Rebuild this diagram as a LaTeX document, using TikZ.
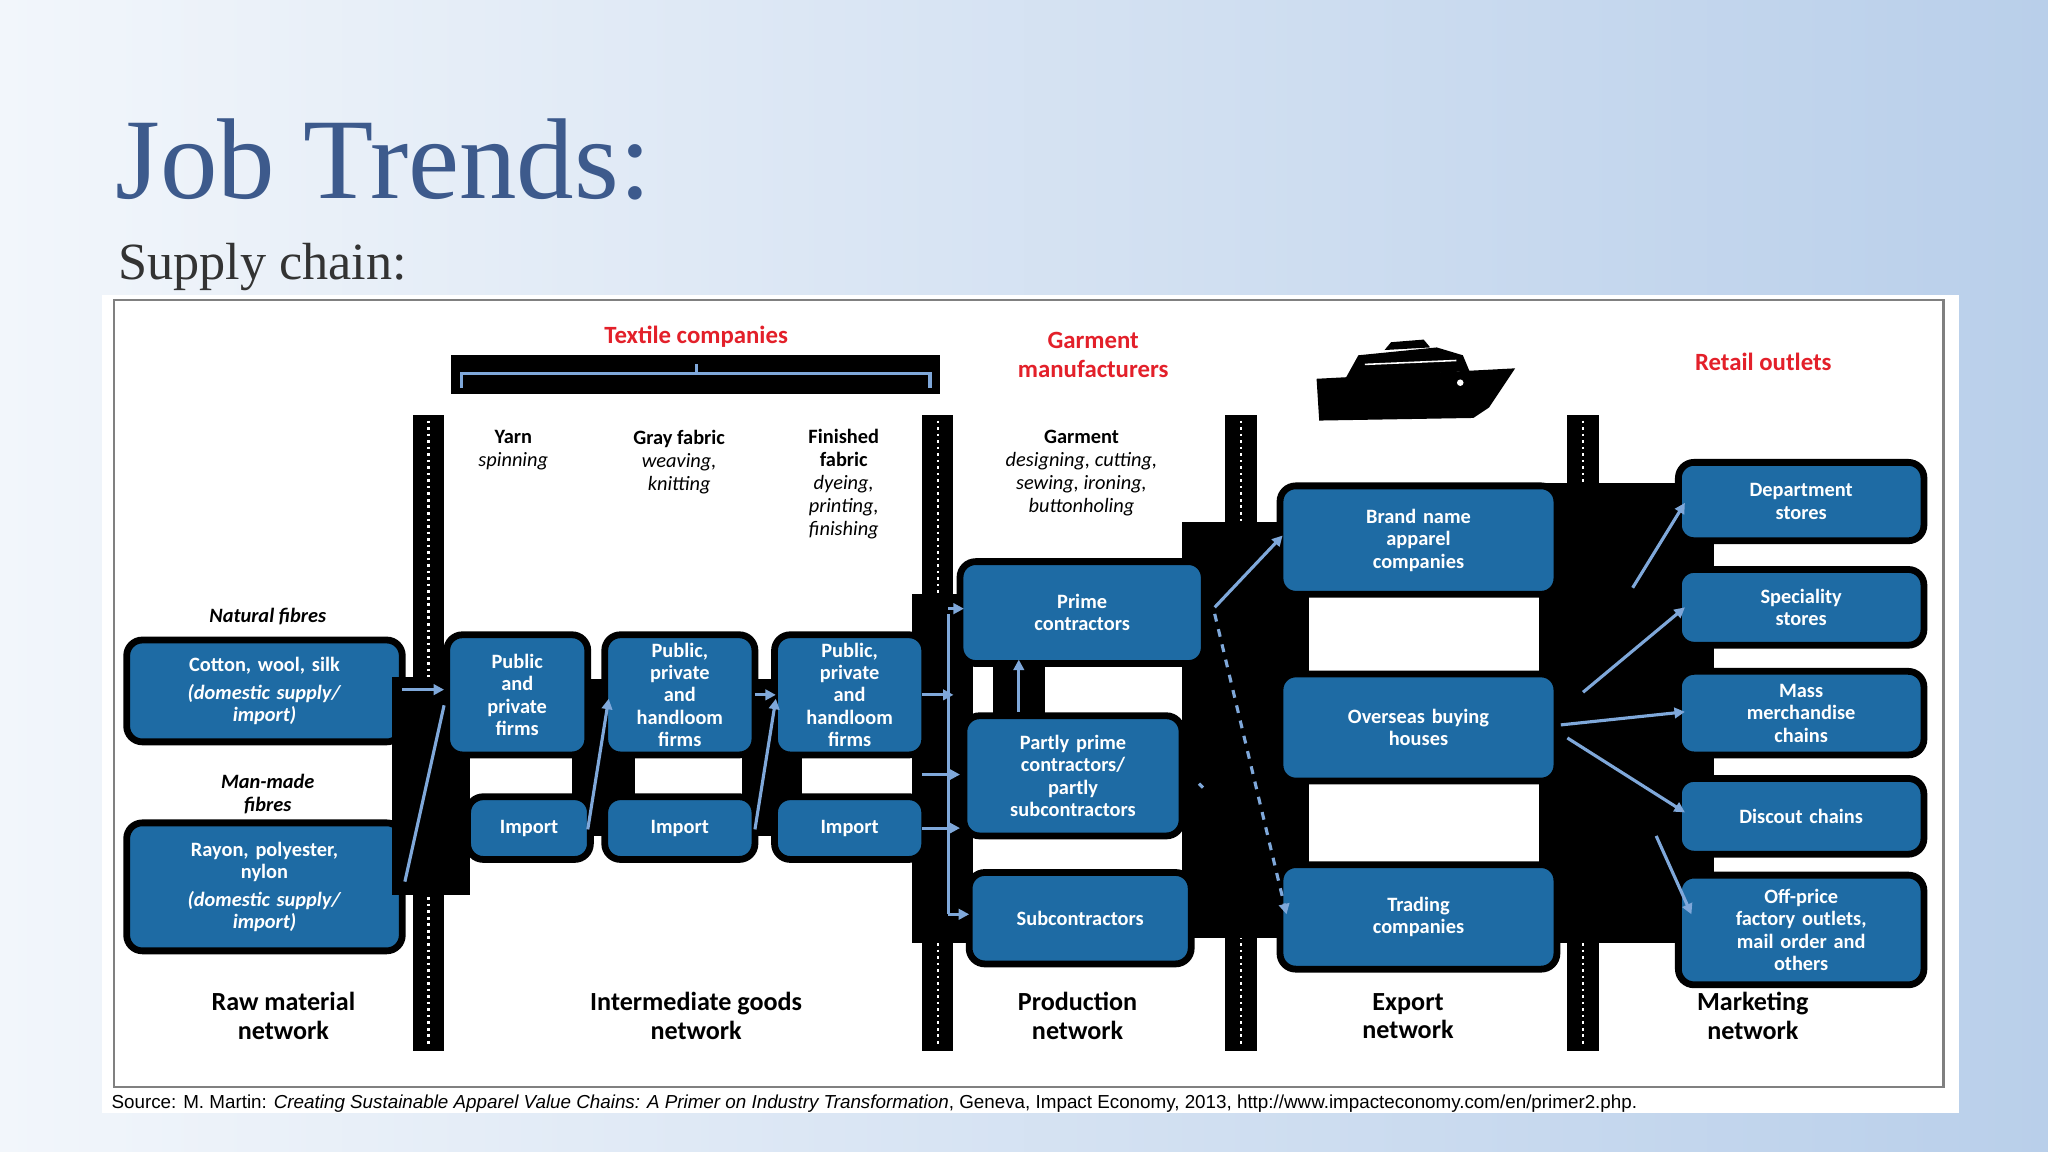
\documentclass[tikz,border=0pt]{standalone}
\usepackage{fontspec}
\setmainfont{Carlito}
\newfontfamily\seriff{Liberation Serif}
\newfontfamily\arialf{Liberation Sans}
\usetikzlibrary{arrows.meta,shadings}
\definecolor{boxblue}{HTML}{1E6BA4}
\definecolor{titleblue}{HTML}{3D5A8C}
\definecolor{redh}{HTML}{E3202A}
\definecolor{arr}{HTML}{7FA8DA}
\definecolor{bgl}{HTML}{F2F6FB}
\definecolor{bgr}{HTML}{B9CFEA}
\tikzset{
 bxs/.style={draw=black,line width=2.6pt,fill=boxblue,rounded corners=6pt,text=white,align=center,font=\fontsize{7.8}{8.6}\selectfont\bfseries,inner sep=1pt},
 blk/.style={fill=black,draw=none},
 arrw/.style={draw=arr,line width=1.2pt,-{Triangle[length=4pt,width=4pt]}},
 colh/.style={align=center,font=\fontsize{7.8}{8.8}\selectfont,text=black},
 red/.style={text=redh,font=\fontsize{9.5}{11}\selectfont\bfseries,align=center},
 bot/.style={font=\fontsize{10}{11}\selectfont\bfseries,align=center},
 ital/.style={font=\fontsize{7.8}{9}\selectfont\itshape\bfseries,align=center}
}
\newcommand{\bx}[6]{\node[bxs,minimum width={(#4-#2)*0.5pt},minimum height={(#5-#3)*0.5pt},text width={(#4-#2)*0.5pt-8pt}] (#1) at ({(#2+#4)/2},{(#3+#5)/2}) {#6};}
\newcommand{\vbar}[2]{\fill[black] (#2-12,318) rectangle (#2+12,805); \draw[white,line width=1pt,dash pattern=on 1pt off 1.5pt] (#2,322) -- (#2,800); \coordinate (#1) at (#2,560);}
\begin{document}
\begin{tikzpicture}[x=0.5pt,y=-0.5pt]
\useasboundingbox (0,0) rectangle (1568,882);
\shade[left color=bgl,right color=bgr] (0,0) rectangle (1568,882);
\node[anchor=base west,text=titleblue,font=\seriff\fontsize{44}{48}\selectfont,inner sep=0] (title) at (88,152) {Job Trends:};
\node[anchor=base west,text=black!80,font=\seriff\fontsize{20}{22}\selectfont,inner sep=0] (sub) at (90,214) {Supply chain:};
\fill[white] (78,226) rectangle (1500,852);
\draw[gray,line width=0.8pt] (87,230) rectangle (1488,832);
% headers
\node[red] (tex) at (533,258) {Textile companies};
\fill[black] (345,272) rectangle (720,302);
\draw[arr,line width=1.2pt] (353,297) -- (353,286) -- (712,286) -- (712,297);
\draw[arr,line width=1.2pt] (533,286) -- (533,279);
\node[red] (gar) at (837,272) {Garment\\manufacturers};
\node[red] (ret) at (1350,277) {Retail outlets};
% ship
\fill[black] (1008,290) -- (1160,282) -- (1140,312) -- (1128,320) -- (1010,322) -- cycle;
\fill[black] (1030,290) -- (1040,272) -- (1100,266) -- (1120,272) -- (1125,284) -- cycle;
\fill[black] (1060,268) -- (1065,262) -- (1090,260) -- (1095,266) -- cycle;
\fill[white] (1118,293) circle (2.5);
\draw[white,line width=0.6pt] (1045,279) -- (1115,276);
% bars
\vbar{b1}{328}\vbar{b2}{718}\vbar{b3}{950}\vbar{b4}{1212}
% column headers
\node[colh] (h1) at (393,345) {\textbf{Yarn}\\\textit{spinning}};
\node[colh] (h2) at (520,354) {\textbf{Gray fabric}\\\textit{weaving,}\\\textit{knitting}};
\node[colh] (h3) at (646,371) {\textbf{Finished}\\\textbf{fabric}\\\textit{dyeing,}\\\textit{printing,}\\\textit{finishing}};
\node[colh] (h4) at (828,362) {\textbf{Garment}\\\textit{designing, cutting,}\\\textit{sewing, ironing,}\\\textit{buttonholing}};
% raw material
\node[ital] (nat) at (205,472) {Natural fibres};
\bx{cot}{97}{490}{308}{568}{Cotton, wool, silk\\[2pt]\textit{(domestic supply/}\\\textit{import)}}
\node[ital] (man) at (205,608) {Man-made\\fibres};
\bx{ray}{97}{630}{308}{728}{Rayon, polyester,\\nylon\\[2pt]\textit{(domestic supply/}\\\textit{import)}}
% connector blocks
\fill[blk] (300,518) rectangle (360,685);
\fill[blk] (438,520) rectangle (486,640);
\fill[blk] (568,520) rectangle (614,640);
\fill[blk] (698,455) rectangle (745,722);
\fill[blk] (760,495) rectangle (800,556);
\fill[blk] (905,400) rectangle (1002,718);
\fill[blk] (1178,370) rectangle (1312,722);
% intermediate
\bx{p1}{342}{486}{450}{578}{Public\\and\\private\\firms}
\bx{p2}{463}{486}{578}{578}{Public,\\private\\and\\handloom\\firms}
\bx{p3}{593}{486}{708}{578}{Public,\\private\\and\\handloom\\firms}
\bx{i1}{358}{610}{452}{658}{Import}
\bx{i2}{463}{610}{578}{658}{Import}
\bx{i3}{593}{610}{708}{658}{Import}
% production
\bx{pc}{735}{430}{922}{508}{Prime\\contractors}
\bx{pp}{738}{548}{905}{640}{Partly prime\\contractors/\\partly\\subcontractors}
\bx{sc}{742}{668}{912}{738}{Subcontractors}
% export
\bx{br}{980}{372}{1192}{455}{Brand name\\apparel\\companies}
\bx{ob}{980}{516}{1192}{598}{Overseas buying\\houses}
\bx{tc}{980}{662}{1192}{742}{Trading\\companies}
% retail
\bx{r1}{1285}{354}{1473}{414}{Department\\stores}
\bx{r2}{1285}{436}{1473}{494}{Speciality\\stores}
\bx{r3}{1285}{514}{1473}{578}{Mass\\merchandise\\chains}
\bx{r4}{1285}{596}{1473}{654}{Discout chains}
\bx{r5}{1285}{670}{1473}{754}{Off-price\\factory outlets,\\mail order and\\others}
% arrows
\coordinate (c1) at (308,528); \coordinate (c1e) at (340,528);
\draw[arrw] (c1) -- (c1e);
\draw[arr,line width=1.2pt] (310,675) -- (340,540);
\draw[arrw] (450,635) -- (466,535);
\draw[arrw] (578,635) -- (594,535);
\draw[arrw] (578,532) -- (594,532);
\draw[arrw] (706,532) -- (730,532);
\draw[arrw] (706,593) -- (735,593);
\draw[arrw] (706,634) -- (735,634);
\draw[arrw] (726,700) -- (742,700);
\draw[arr,line width=1.2pt] (726,470) -- (726,700);
\draw[arrw] (726,466) -- (738,466);
\draw[arrw] (780,545) -- (780,505);
\draw[arrw] (930,465) -- (982,410);
\draw[arr,line width=1.2pt,dashed,-{Triangle[length=4pt,width=4pt]}] (930,470) -- (985,700);
\draw[arr,line width=1.2pt] (918,600) -- (921,603);
\coordinate (hub) at (1195,555);
\draw[arrw] (1250,450) -- (1290,385);
\draw[arrw] (1212,530) -- (1290,465);
\draw[arrw] (hub) -- (1290,545);
\draw[arrw] (1200,565) -- (1290,622);
\draw[arrw] (1268,640) -- (1295,700);
% bottom labels
\node[bot] (l1) at (217,778) {Raw material\\network};
\node[bot] (l2) at (533,778) {Intermediate goods\\network};
\node[bot] (l3) at (825,778) {Production\\network};
\node[bot] (l4) at (1078,778) {Export\\network};
\node[bot] (l5) at (1342,778) {Marketing\\network};
\node[anchor=west,font=\arialf\fontsize{7.2}{8}\selectfont,inner sep=0] (src) at (85,845) {Source: M. Martin: \textit{Creating Sustainable Apparel Value Chains: A Primer on Industry Transformation}, Geneva, Impact Economy, 2013, http://www.impacteconomy.com/en/primer2.php.};
\end{tikzpicture}
\end{document}
